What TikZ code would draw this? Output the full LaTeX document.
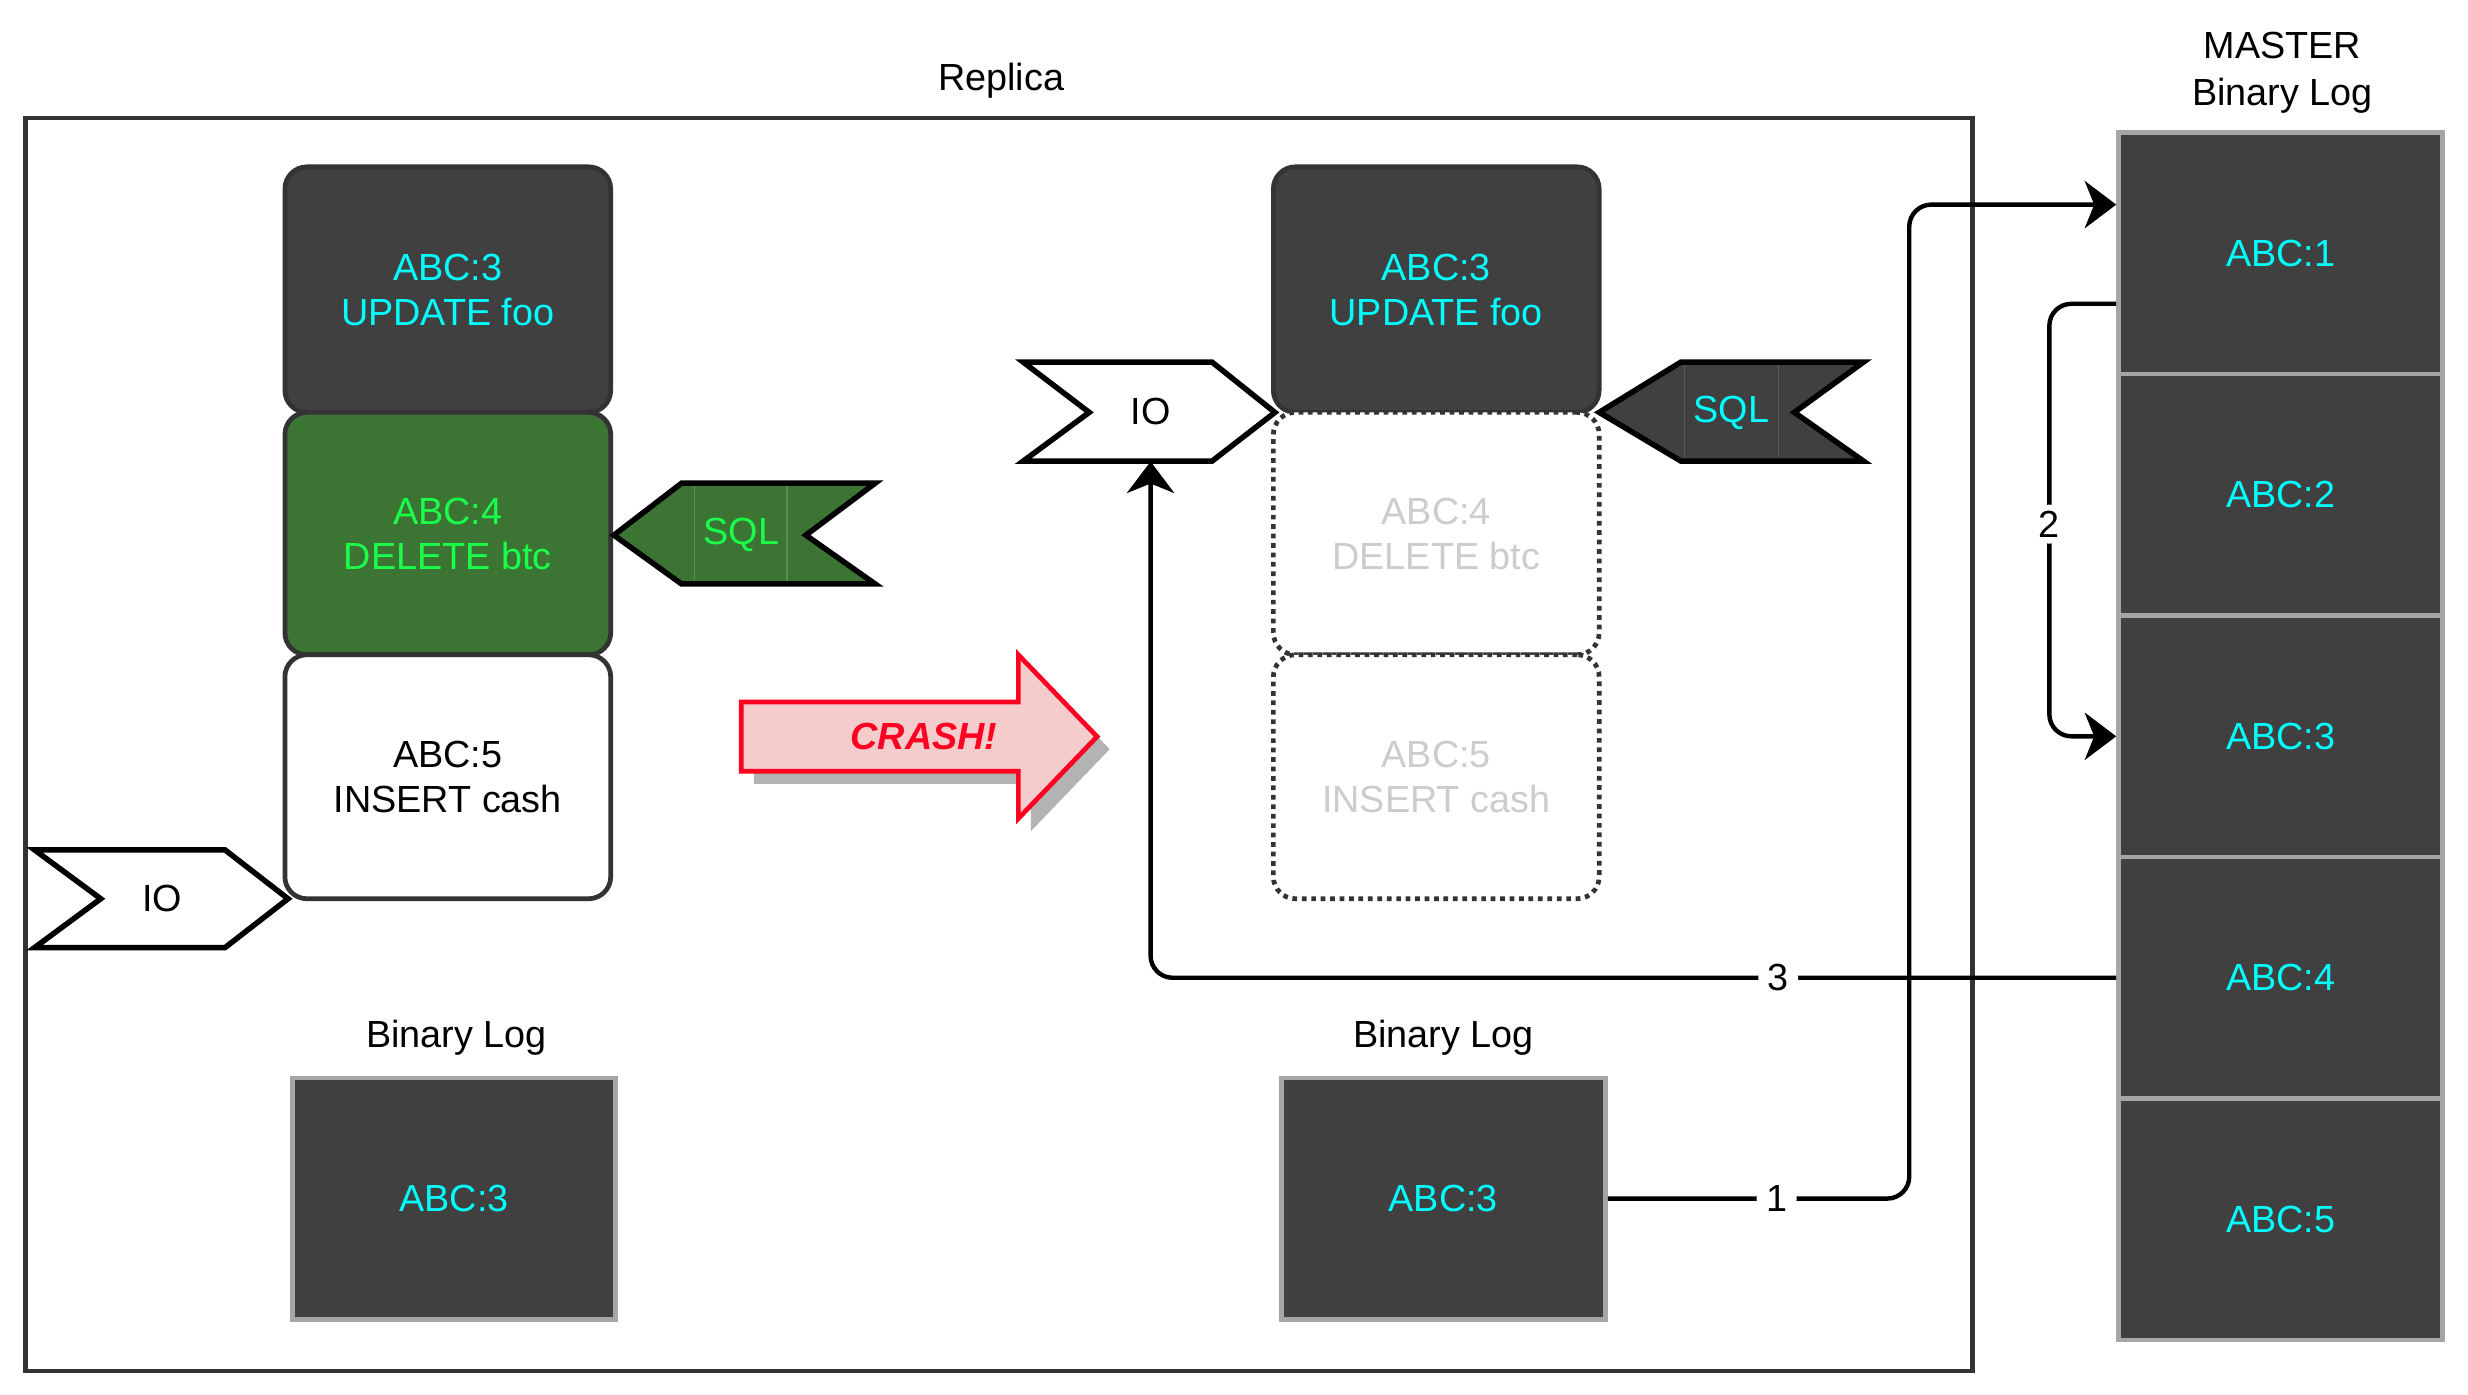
\documentclass[tikz,border=0pt]{standalone}
\usepackage{fontspec}
\setmainfont{Liberation Sans}
\usetikzlibrary{arrows.meta,calc}
\definecolor{dk}{HTML}{404040}
\definecolor{dkb}{HTML}{333333}
\definecolor{cy}{HTML}{00FFFF}
\definecolor{gr}{HTML}{3B7433}
\definecolor{grl}{HTML}{5A8F52}
\definecolor{grt}{HTML}{1AFF4A}
\definecolor{ghost}{HTML}{CCCCCC}
\definecolor{lg}{HTML}{A6A6A6}
\definecolor{pk}{HTML}{F4CCCC}
\definecolor{rd}{HTML}{FF0022}
\definecolor{shd}{HTML}{B3B3B3}
\definecolor{dkl}{HTML}{5A5A5A}
\begin{document}
\begin{tikzpicture}[x=1pt,y=-1pt,font=\fontsize{24}{28.5}\selectfont,
  rec/.style={rounded corners=14pt,minimum width=207pt,line width=3pt,align=center,inner sep=0pt,draw=dkb},
  darkrec/.style={rec,fill=dk,text=cy},
  greenrec/.style={rec,fill=gr,text=grt},
  whiterec/.style={rec,fill=white,text=black},
  ghostrec/.style={rec,fill=white,text=ghost,dash pattern=on 3pt off 3pt},
  logbox/.style={fill=dk,draw=lg,line width=3pt,minimum width=206pt,minimum height=153.4pt,text=cy,inner sep=0pt},
  chev/.style={line width=3.5pt,line join=miter},
  conn/.style={line width=2.8pt,rounded corners=14pt},
  tip/.style={-{Stealth[length=20pt,width=30pt,inset=6pt,sharp]}},
  lbl/.style={fill=white,inner xsep=6pt,inner ysep=4pt,text=black},
  plain/.style={text=black,align=center,inner sep=0pt}]
\useasboundingbox (0,0) rectangle (1568,885.7);

% Replica container
\draw[draw=dkb,line width=3pt] (16,75) rectangle (1253,871);
\node[plain] (replica) at (636,51) {Replica};

% Master binary log
\node[plain,font=\fontsize{24}{30}\selectfont] (master) at (1450,46) {MASTER\\Binary Log};
\node[logbox] (m1) at (1449,161) {ABC:1};
\node[logbox] (m2) at (1449,314.4) {ABC:2};
\node[logbox] (m3) at (1449,467.8) {ABC:3};
\node[logbox] (m4) at (1449,621.2) {ABC:4};
\node[logbox] (m5) at (1449,774.6) {ABC:5};

% Left stack
\node[darkrec,minimum height=156pt] (l3) at (284.5,184) {ABC:3\\UPDATE foo};
\node[greenrec,minimum height=154pt] (l4) at (284.5,339) {ABC:4\\DELETE btc};
\node[whiterec,minimum height=155pt] (l5) at (284.5,493.5) {ABC:5\\INSERT cash};

% Left SQL
\draw[chev,fill=gr] (390,340) -- (433,307) -- (556,307) -- (512,340) -- (556,371) -- (433,371) -- cycle;
\draw[grl,line width=0.8pt] (441,309) -- (441,369) (500,309) -- (500,369);
\node[plain,text=grt] (sql1) at (471,340) {SQL};

% Left IO
\draw[chev,fill=white] (22,540) -- (143,540) -- (183,571) -- (143,602) -- (22,602) -- (64,571) -- cycle;
\node[plain] (io1) at (103,571) {IO};

% Left binary log
\node[plain] (bl1lbl) at (290,659) {Binary Log};
\node[logbox,minimum width=205pt] (lbl1) at (288.5,761.5) {ABC:3};

% CRASH arrow
\fill[shd] (479,454) -- (655,454) -- (655,424) -- (705,476) -- (655,528) -- (655,498) -- (479,498) -- cycle;
\draw[fill=pk,draw=rd,line width=3pt,line join=miter] (471,446) -- (647,446) -- (647,416) -- (697,468) -- (647,520) -- (647,490) -- (471,490) -- cycle;
\node[plain,text=rd,font=\fontsize{24}{28}\selectfont\bfseries\itshape] (crash) at (587,468) {CRASH!};

% Right stack
\node[darkrec,minimum height=156pt] (r3) at (912.5,184) {ABC:3\\UPDATE foo};
\node[ghostrec,minimum height=154pt] (r4) at (912.5,339) {ABC:4\\DELETE btc};
\node[ghostrec,minimum height=155pt] (r5) at (912.5,493.5) {ABC:5\\INSERT cash};

% Right IO
\draw[chev,fill=white] (650,230) -- (770,230) -- (810,262) -- (770,293) -- (650,293) -- (692,262) -- cycle;
\node[plain,minimum width=80pt,minimum height=63pt] (io2) at (731,261.5) {IO};

% Right SQL
\draw[chev,fill=dk] (1016,262) -- (1068,230) -- (1184,230) -- (1140,262) -- (1184,293) -- (1068,293) -- cycle;
\draw[dkl,line width=0.8pt] (1070,232) -- (1070,291) (1130,232) -- (1130,291);
\node[plain,text=cy] (sql2) at (1100,262) {SQL};

% Right binary log
\node[plain] (bl2lbl) at (917,659) {Binary Log};
\node[logbox] (rbl) at (917,761.5) {ABC:3};

% Connectors
\coordinate (k1) at (1213,130);
\draw[conn,tip] (rbl.east) -- node[lbl,pos=0.56]{1} (rbl.east -| k1) -- (k1) -- (k1 -| m1.west);
\coordinate (k2) at (1302,333);
\draw[conn,tip] ([yshift=-32pt]m1.west) -| (k2) node[lbl]{2} |- (m3.west);
\draw[conn,tip] (m4.west) -- node[lbl,pos=0.35]{3} (m4.west -| io2.south) -- (io2.south);
\end{tikzpicture}
\end{document}
